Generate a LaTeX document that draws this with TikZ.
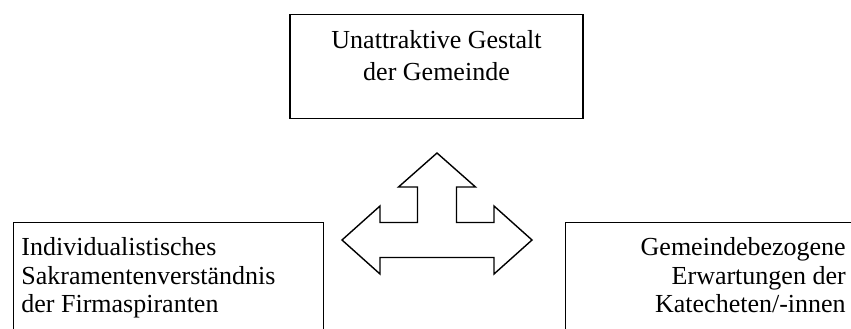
\documentclass[tikz,border=0pt]{standalone}
\usepackage{fontspec}
\setmainfont{Liberation Serif}
\usetikzlibrary{positioning}

\begin{document}
\begin{tikzpicture}[x=1pt,y=-1pt,
  box/.style={draw, line width=1.4pt, inner xsep=8pt, inner ysep=15pt},
  toptext/.style={font=\fontsize{26}{32}\selectfont},
  sidetext/.style={font=\fontsize{26}{28.5}\selectfont}]
\clip (0,0) rectangle (851,329);

%top box
\node[box, toptext, anchor=north, inner ysep=16pt] (gestalt) at (436.5,14)
  {\parbox[t][72pt][t]{277pt}{\centering Unattraktive Gestalt\\der Gemeinde}};

%side boxes
\node[box, sidetext, anchor=north west] (firmlinge) at (12.7,222)
  {\parbox[t][120pt][t]{294pt}{\raggedright Individualistisches\\Sakramentenverständnis\\der Firmaspiranten}};
\node[box, sidetext, anchor=north west] (katecheten) at (565,222)
  {\parbox[t][120pt][t]{272pt}{\raggedleft Gemeindebezogene\\Erwartungen der\\Katecheten/-innen}};

%three-way arrow
\coordinate (hub) at (437,240);
\draw[line width=1.4pt, shift={(hub)}] (0,-87) -- (38.5,-53) -- (19.5,-53) -- (19.5,-17.5) -- (57,-17.5) -- (57,-34) -- (95,0) -- (57,34) -- (57,17.5) -- (-57,17.5) -- (-57,34) -- (-95,0) -- (-57,-34) -- (-57,-17.5) -- (-19.5,-17.5) -- (-19.5,-53) -- (-38.5,-53) -- cycle;
\end{tikzpicture}
\end{document}
